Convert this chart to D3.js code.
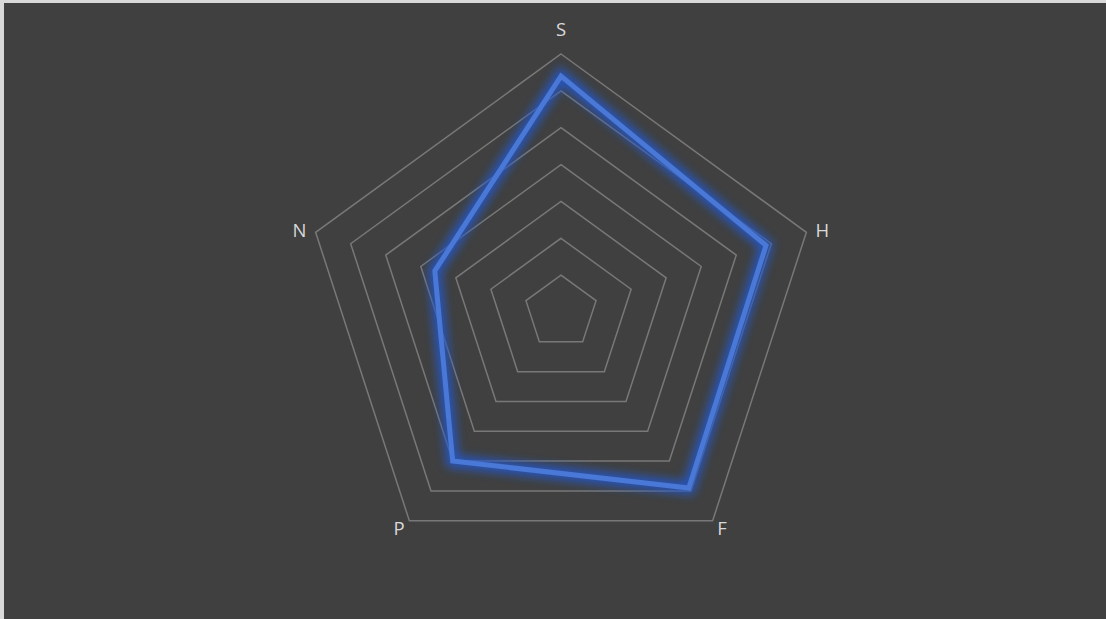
<!DOCTYPE html>
<html>
<head>
<meta charset="utf-8">
<script src="https://cdn.jsdelivr.net/npm/d3@7"></script>
<style>
  html, body { margin: 0; padding: 0; background: #d9d9d9; }
  svg { display: block; }
</style>
</head>
<body>
<svg id="chart" width="1106" height="619"></svg>
<script>
// Radar axes (clockwise from top) and the single series plotted on them
const categories = ["S", "H", "F", "P", "N"];
const values = [64, 58.5, 59, 50, 36];
const gridLevels = [10, 20, 30, 40, 50, 60, 70];
const maxValue = 70;

const W = 1106, H = 619;
const cx = 561, cy = 312, R = 258;

const svg = d3.select("#chart");

// Chart area
svg.append("rect")
  .attr("x", 4).attr("y", 3)
  .attr("width", W - 4).attr("height", H - 3)
  .attr("fill", "#404040");

// Soft blue glow around the series line
const defs = svg.append("defs");
const glow = defs.append("filter")
  .attr("id", "glow")
  .attr("x", "-20%").attr("y", "-20%")
  .attr("width", "140%").attr("height", "140%");
glow.append("feGaussianBlur").attr("stdDeviation", 5);

const r = d3.scaleLinear().domain([0, maxValue]).range([0, R]);
const angle = d3.scalePoint().domain(categories).range([0, 2 * Math.PI * (categories.length - 1) / categories.length]);

const g = svg.append("g").attr("transform", `translate(${cx},${cy})`);

const radial = d3.lineRadial()
  .angle(d => angle(d.cat))
  .radius(d => r(d.v))
  .curve(d3.curveLinearClosed);

// Concentric pentagon gridlines
g.selectAll("path.grid")
  .data(gridLevels)
  .join("path")
  .attr("class", "grid")
  .attr("d", lv => radial(categories.map(c => ({ cat: c, v: lv }))))
  .attr("fill", "none")
  .attr("stroke", "#787878")
  .attr("stroke-width", 1.5);

const seriesPts = categories.map((c, i) => ({ cat: c, v: values[i] }));

// Glow layer
g.append("path")
  .attr("d", radial(seriesPts))
  .attr("fill", "none")
  .attr("stroke", "#2456c8")
  .attr("stroke-opacity", 0.9)
  .attr("stroke-width", 13)
  .attr("stroke-linejoin", "miter")
  .attr("filter", "url(#glow)");

// Series line
g.append("path")
  .attr("d", radial(seriesPts))
  .attr("fill", "none")
  .attr("stroke", "#4a78d6")
  .attr("stroke-width", 5)
  .attr("stroke-linejoin", "miter");

// Category labels
g.selectAll("text.cat")
  .data(categories)
  .join("text")
  .attr("class", "cat")
  .each(function (c) {
    const a = angle(c);
    const s = Math.sin(a), co = Math.cos(a);
    const gap = 8 + 18 * Math.pow(Math.max(0, co), 2);
    const x = (R + gap) * s;
    const y = -(R + gap) * co;
    d3.select(this)
      .attr("x", x)
      .attr("y", y)
      .attr("text-anchor", Math.abs(s) < 0.1 ? "middle" : (s > 0 ? "start" : "end"))
      .attr("dominant-baseline", "central");
  })
  .attr("fill", "#d9d9d9")
  .attr("font-family", "'Open Sans', 'Noto Sans', sans-serif")
  .attr("font-size", 18.5)
  .text(c => c);
</script>
</body>
</html>
